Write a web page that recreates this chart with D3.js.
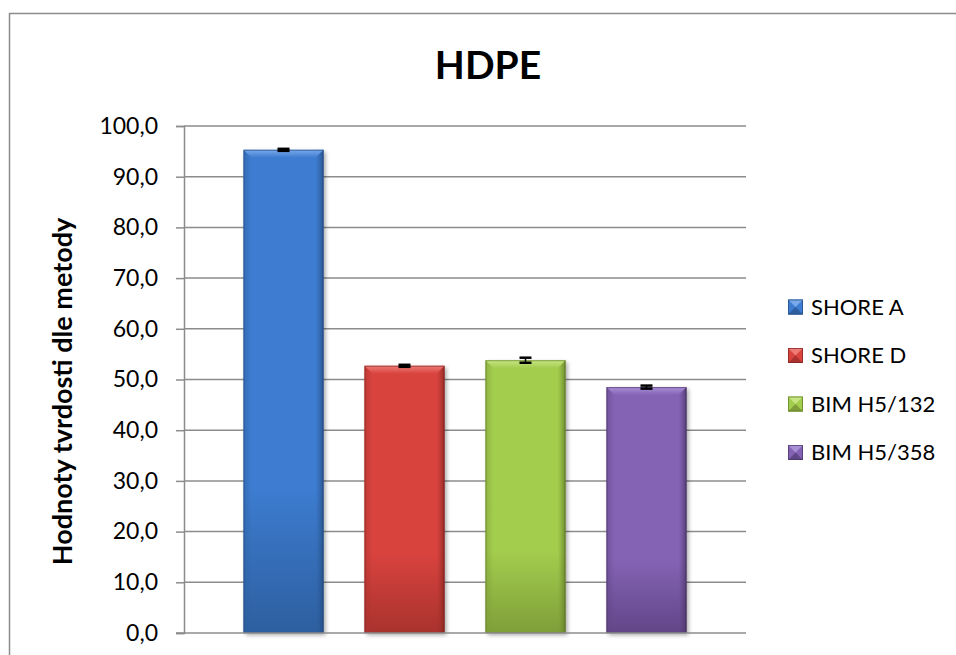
<!DOCTYPE html>
<html>
<head>
<meta charset="utf-8">
<script src="https://cdn.jsdelivr.net/npm/d3@7"></script>
<style>
  html, body { margin: 0; padding: 0; background: #fff; overflow: hidden; }
  svg { display: block; font-family: Lato, "Open Sans", sans-serif; }
</style>
</head>
<body>
<svg id="chart" width="956" height="655"></svg>
<script>
// Hardness values of HDPE measured by four methods
const seriesNames = ["SHORE A", "SHORE D", "BIM H5/132", "BIM H5/358"];
const seriesValues = [95.3, 52.7, 53.8, 48.5];
const seriesErrors = [0.2, 0.2, 0.5, 0.3];
const yTicks = [0, 10, 20, 30, 40, 50, 60, 70, 80, 90, 100];
const chartTitle = "HDPE";
const yAxisTitle = "Hodnoty tvrdosti dle metody";

// base, light (top bevel) and dark (bottom) tones per series
const palette = [
  { base: "#3d7cd0", light: "#79a9ea", dark: "#2d5f9f", edge: "#234a7c" },
  { base: "#d9433e", light: "#ee7b76", dark: "#a9322e", edge: "#7f2421" },
  { base: "#a3cd4d", light: "#c6e583", dark: "#7f9e39", edge: "#5d7527" },
  { base: "#8463b5", light: "#a98fd6", dark: "#614687", edge: "#47325f" }
];

const svg = d3.select("#chart");
const plot = { left: 184, right: 746, top: 126, bottom: 633 };

// outer frame (runs past the right and bottom edges)
svg.append("rect")
  .attr("x", 9.5).attr("y", 13.5)
  .attr("width", 1100).attr("height", 800)
  .attr("fill", "none").attr("stroke", "#8c8c8c").attr("stroke-width", 1.5);

const y = d3.scaleLinear().domain([0, 100]).range([plot.bottom, plot.top]);
const x0 = d3.scaleBand().domain([""]).range([plot.left, plot.right]);
const x1 = d3.scaleBand().domain(seriesNames)
  .range([0, x0.bandwidth()]).paddingInner(0.339).paddingOuter(0.492);

const defs = svg.append("defs");
const shadow = defs.append("filter").attr("id", "shadow")
  .attr("x", "-20%").attr("y", "-20%").attr("width", "140%").attr("height", "140%");
shadow.append("feGaussianBlur").attr("stdDeviation", 2);

palette.forEach((c, i) => {
  const g = defs.append("linearGradient").attr("id", "body" + i)
    .attr("x1", 0).attr("y1", 0).attr("x2", 0).attr("y2", 1);
  g.append("stop").attr("offset", "0%").attr("stop-color", c.base);
  g.append("stop").attr("offset", "70%").attr("stop-color", c.base);
  g.append("stop").attr("offset", "100%").attr("stop-color", c.dark);
  const t = defs.append("linearGradient").attr("id", "top" + i)
    .attr("x1", 0).attr("y1", 0).attr("x2", 0).attr("y2", 1);
  t.append("stop").attr("offset", "0%").attr("stop-color", c.light);
  t.append("stop").attr("offset", "100%").attr("stop-color", c.base);
  const l = defs.append("linearGradient").attr("id", "side" + i)
    .attr("x1", 0).attr("y1", 0).attr("x2", 1).attr("y2", 0);
  l.append("stop").attr("offset", "0%").attr("stop-color", c.dark).attr("stop-opacity", 0.55);
  l.append("stop").attr("offset", "100%").attr("stop-color", c.dark).attr("stop-opacity", 0);
  const r = defs.append("linearGradient").attr("id", "rside" + i)
    .attr("x1", 1).attr("y1", 0).attr("x2", 0).attr("y2", 0);
  r.append("stop").attr("offset", "0%").attr("stop-color", c.edge).attr("stop-opacity", 0.8);
  r.append("stop").attr("offset", "100%").attr("stop-color", c.dark).attr("stop-opacity", 0);
});

// horizontal gridlines
svg.append("g").selectAll("line").data(yTicks.filter(d => d > 0)).join("line")
  .attr("x1", plot.left).attr("x2", plot.right)
  .attr("y1", d => y(d)).attr("y2", d => y(d))
  .attr("stroke", "#8c8c8c").attr("stroke-width", 1.5);

// y axis with comma decimal labels
const yAxis = d3.axisLeft(y).tickValues(yTicks)
  .tickFormat(d => d3.format(".1f")(d).replace(".", ","))
  .tickSize(8).tickPadding(18);
const ya = svg.append("g").attr("transform", `translate(${plot.left},0)`).call(yAxis);
ya.select(".domain").attr("stroke", "#8c8c8c").attr("stroke-width", 1.5);
ya.selectAll(".tick line").attr("stroke", "#8c8c8c").attr("stroke-width", 1.5);
ya.selectAll(".tick text").attr("fill", "#000").attr("font-size", 23)
  .attr("font-family", "Lato, sans-serif");

// bars
const bevel = 8;
const bars = svg.append("g").selectAll("g").data(seriesNames).join("g")
  .attr("transform", `translate(${x0("")},0)`);
bars.each(function(name, i) {
  const g = d3.select(this);
  const bx = x1(name), bw = x1.bandwidth();
  const by = y(seriesValues[i]), bh = y(0) - by;
  g.append("rect").attr("x", bx + 2).attr("y", by + 2).attr("width", bw).attr("height", bh)
    .attr("fill", "#000").attr("opacity", 0.35).attr("filter", "url(#shadow)");
  g.append("rect").attr("x", bx).attr("y", by).attr("width", bw).attr("height", bh)
    .attr("fill", `url(#body${i})`);
  g.append("rect").attr("x", bx).attr("y", by).attr("width", bevel).attr("height", bh)
    .attr("fill", `url(#side${i})`);
  g.append("rect").attr("x", bx + bw - bevel).attr("y", by).attr("width", bevel).attr("height", bh)
    .attr("fill", `url(#rside${i})`);
  g.append("path")
    .attr("d", `M${bx},${by}H${bx + bw}L${bx + bw - bevel},${by + bevel}H${bx + bevel}Z`)
    .attr("fill", `url(#top${i})`);
  g.append("rect").attr("x", bx + 0.5).attr("y", by + 0.5).attr("width", bw - 1).attr("height", bh - 1)
    .attr("fill", "none").attr("stroke", palette[i].edge).attr("stroke-opacity", 0.6);

  // error bar
  const cx = bx + bw / 2;
  const hi = y(seriesValues[i] + seriesErrors[i]), lo = y(seriesValues[i] - seriesErrors[i]);
  g.append("line").attr("x1", cx).attr("x2", cx).attr("y1", hi).attr("y2", lo)
    .attr("stroke", "#000").attr("stroke-width", 1.5);
  [hi, lo].forEach(v => g.append("line")
    .attr("x1", cx - 6).attr("x2", cx + 6).attr("y1", v).attr("y2", v)
    .attr("stroke", "#000").attr("stroke-width", 2.5));
});

// x axis line
svg.append("line").attr("x1", plot.left - 8).attr("x2", plot.right)
  .attr("y1", y(0)).attr("y2", y(0))
  .attr("stroke", "#8c8c8c").attr("stroke-width", 1.5);

// title
svg.append("text").attr("x", 488).attr("y", 79)
  .attr("text-anchor", "middle").attr("font-size", 39).attr("font-weight", 700)
  .attr("font-family", "Lato, sans-serif").text(chartTitle);

// y axis title
svg.append("text")
  .attr("transform", `translate(72,${(plot.top + plot.bottom) / 2 + 12}) rotate(-90)`)
  .attr("text-anchor", "middle").attr("font-size", 27).attr("font-weight", 700)
  .attr("font-family", "Lato, sans-serif").text(yAxisTitle);

// legend
const legend = svg.append("g").selectAll("g").data(seriesNames).join("g")
  .attr("transform", (d, i) => `translate(788,${307 + i * 48.5})`);
legend.each(function(name, i) {
  const g = d3.select(this);
  const s = 15, c = palette[i];
  g.append("rect").attr("x", 0).attr("y", -s / 2).attr("width", s).attr("height", s).attr("fill", c.base);
  g.append("path").attr("d", `M0,${-s / 2}H${s}L${s / 2},0Z`).attr("fill", c.light);
  g.append("path").attr("d", `M0,${s / 2}H${s}L${s / 2},0Z`).attr("fill", c.dark);
  g.append("rect").attr("x", 0.5).attr("y", -s / 2 + 0.5).attr("width", s - 1).attr("height", s - 1)
    .attr("fill", "none").attr("stroke", c.edge).attr("stroke-opacity", 0.7);
  g.append("text").attr("x", 23).attr("y", 0).attr("dy", "0.35em")
    .attr("font-size", 22).attr("font-family", "Lato, sans-serif").text(name);
});
</script>
</body>
</html>
